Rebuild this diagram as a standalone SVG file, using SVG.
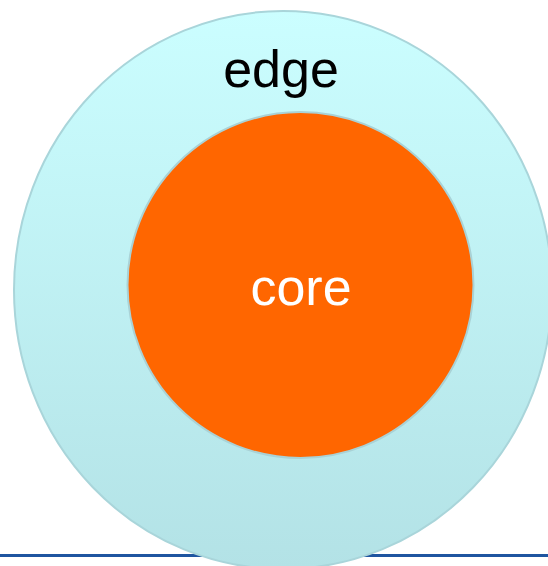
<svg xmlns="http://www.w3.org/2000/svg" width="548" height="566" viewBox="0 0 548 566">
  <defs>
    <linearGradient id="edgeGrad" x1="0" y1="0" x2="0" y2="1">
      <stop offset="0" stop-color="#CBFEFF"/>
      <stop offset="1" stop-color="#B3E2E6"/>
    </linearGradient>
    <style>
      .label { font-family: "Liberation Sans", Arial, sans-serif; font-size: 52px; text-anchor: middle; }
    </style>
  </defs>
  <rect width="548" height="566" fill="#FFFFFF"/>
  <g id="baseline">
    <line x1="0" y1="555.5" x2="548" y2="555.5" stroke="#1F55A0" stroke-width="3"/>
  </g>
  <g id="edge">
    <ellipse cx="283" cy="290" rx="269" ry="279" fill="url(#edgeGrad)" stroke="#A9D5DA" stroke-width="2"/>
    <text class="label" x="281" y="87" fill="#000000">edge</text>
  </g>
  <g id="core">
    <circle cx="300.5" cy="285" r="173" fill="#FF6600" stroke="#A9D2D6" stroke-width="2"/>
    <text class="label" x="301" y="305" fill="#FFFFFF">core</text>
  </g>
  <g id="connectors"/>
</svg>
